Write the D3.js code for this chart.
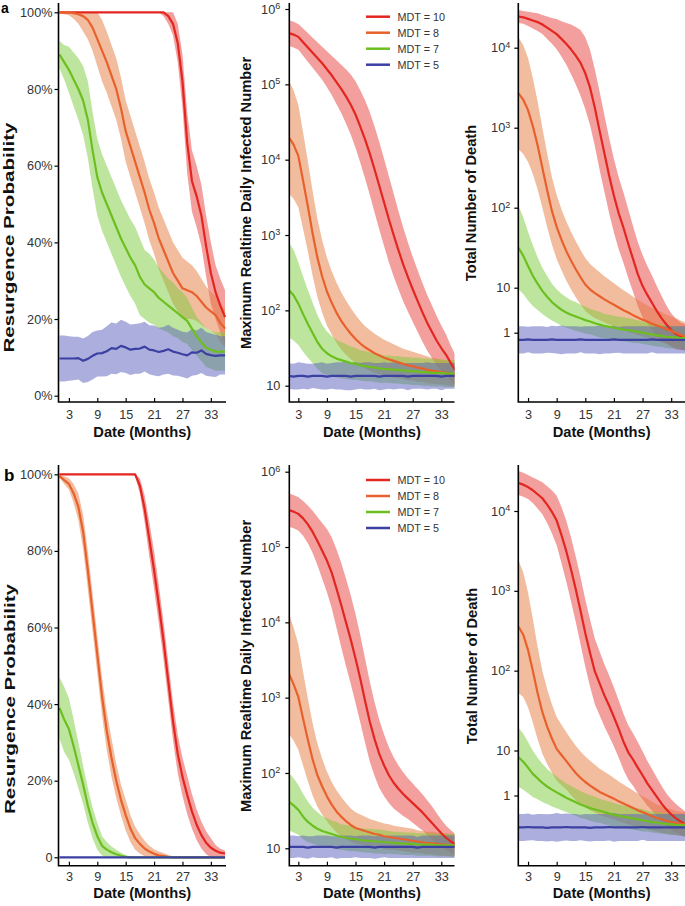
<!DOCTYPE html>
<html><head><meta charset="utf-8">
<script src="https://cdn.jsdelivr.net/npm/d3@7"></script>
<style>
body{margin:0;background:#fff}
svg{display:block}
text{font-family:"Liberation Sans",Arial,Helvetica,sans-serif}
</style>
</head><body>
<svg id="c" width="685" height="906"></svg>
<script>
// ---------- data ----------
const months = [1,2,3,4,5,6,7,8,9,10,11,12,13,14,15,16,17,18,19,20,21,22,23,24,25,26,27,28,29,30,31,32,33,34,35,36];
const xTicks = [3,9,15,21,27,33];
const seriesNames = ["MDT = 10","MDT = 8","MDT = 7","MDT = 5"];
const probTicks = [0,20,40,60,80,100];
const probLabelsA = ["0%","20%","40%","60%","80%","100%"];
const probLabelsB = ["0","20%","40%","60%","80%","100%"];
const infTicks = [1,2,3,4,5,6];      // log10 of count
const deathTicks = [0,1,2,3,4];      // log10 of count

// Panel a: resurgence probability (%), mean and half-width of band
const probA10 = [100,100,100,100,100,100,100,100,100,100,100,100,100,100,100,100,100,100,100,100,100,100,100,99,97,92,82,66,56,52,47,39,32,27,23.5,20.5];
const probA10Sd = [0,0,0,0,0,0,0,0,0,0,0,0,0,0,0,0,0,0,0,0,0,0,1,2,3,5,7,8,8,8,8,8,8,7,7,7];
const probA8 = [100,100,100,99.8,99.5,99,98,96,93,90,87,83.5,80,75,69,65,61,57,53,48.5,45,41,38,35,32,30,28,27.5,27,26,24.5,23,22,21,19,17.5];
const probA8Sd = [0.3,0.5,0.8,1.5,2.5,4,5,6,7,8,8,8,8,8,8,8,8,8,8,8,8,8,8,8,8,8,8,7.5,7,6.5,6,5.5,5,5,5,5];
const probA7 = [89,87,85,82.5,80,77,72,64,57,53,50,47,44,41,38.5,36,34,31,29,28,27,25.5,24.5,23.5,22.5,21.5,20.5,19.5,17.5,15.5,14,12.5,12,11.5,11.5,11.5];
const probA7Sd = [3.5,4.5,6,7,8,9,10,10,10,10,10,10,10,10,10,10,10,10,9,9,8.5,8,7.5,7,7,6.5,6.5,6,5.5,5,5,5,5,5,5,5];
const probA5 = [9.7,9.7,9.7,9.7,9.8,9.1,9.6,10.4,11,11.1,11.6,12.4,12.2,13,12.6,12,12.2,12.3,12.8,12,11.8,11.4,11.7,12.1,11.5,11.2,10.8,10.5,11.3,11.2,11.8,10.9,10.6,10.4,10.5,10.5];
const probA5Sd = [6,6,5.8,5.7,5.6,5.8,6,6.2,6,6.1,6.5,6.7,6.6,6.8,6.7,6.6,6.5,6.6,6.5,6.4,6.5,6.3,6.2,6.4,6.2,6,5.9,6,6.1,5.8,5.9,5.7,5.6,5.5,5,5];

// Panel a: maximum realtime daily infected number (log10), band half-width in decades
const infA10 = [5.68,5.66,5.63,5.56,5.49,5.42,5.35,5.28,5.2,5.12,5.03,4.94,4.84,4.73,4.6,4.44,4.27,4.08,3.87,3.65,3.43,3.21,3.0,2.8,2.61,2.44,2.28,2.13,1.98,1.84,1.72,1.6,1.5,1.41,1.3,1.2];
const infA10Sd = [0.17,0.17,0.17,0.18,0.19,0.2,0.21,0.22,0.24,0.26,0.29,0.32,0.36,0.4,0.44,0.48,0.52,0.55,0.57,0.58,0.58,0.57,0.55,0.52,0.49,0.46,0.43,0.41,0.39,0.37,0.35,0.33,0.3,0.27,0.23,0.2];
const infA8 = [4.3,4.2,4.05,3.72,3.38,3.02,2.7,2.45,2.25,2.1,1.97,1.86,1.77,1.69,1.62,1.56,1.51,1.47,1.43,1.4,1.37,1.35,1.33,1.31,1.29,1.27,1.26,1.24,1.23,1.21,1.2,1.19,1.18,1.17,1.16,1.15];
const infA8Sd = [0.75,0.72,0.68,0.64,0.6,0.56,0.52,0.48,0.45,0.42,0.4,0.38,0.36,0.34,0.32,0.3,0.28,0.27,0.26,0.25,0.24,0.23,0.22,0.21,0.2,0.2,0.19,0.19,0.18,0.18,0.17,0.17,0.16,0.16,0.16,0.16];
const infA7 = [2.27,2.2,2.09,1.95,1.82,1.7,1.58,1.49,1.43,1.39,1.36,1.34,1.32,1.3,1.29,1.27,1.26,1.25,1.24,1.23,1.22,1.22,1.21,1.21,1.2,1.2,1.19,1.19,1.18,1.18,1.17,1.17,1.17,1.16,1.16,1.16];
const infA7Sd = [0.63,0.6,0.55,0.5,0.45,0.4,0.36,0.32,0.29,0.27,0.25,0.24,0.23,0.22,0.21,0.2,0.2,0.19,0.19,0.19,0.18,0.18,0.18,0.18,0.18,0.18,0.18,0.18,0.18,0.18,0.18,0.18,0.18,0.18,0.18,0.18];
const infA5 = [1.13,1.12,1.13,1.13,1.12,1.13,1.13,1.13,1.12,1.13,1.13,1.13,1.13,1.12,1.13,1.13,1.13,1.13,1.13,1.12,1.13,1.13,1.13,1.13,1.13,1.12,1.13,1.13,1.13,1.13,1.13,1.13,1.12,1.13,1.13,1.13];
const infA5Sd = [0.17,0.17,0.18,0.17,0.17,0.16,0.17,0.18,0.17,0.17,0.18,0.18,0.19,0.18,0.18,0.17,0.18,0.18,0.17,0.18,0.18,0.17,0.18,0.17,0.17,0.18,0.17,0.17,0.17,0.18,0.17,0.17,0.18,0.17,0.17,0.17];

// Panel a: total number of death (log10 as labelled), band half-width in axis decades
const deathA10 = [4.39,4.38,4.36,4.34,4.32,4.29,4.25,4.21,4.17,4.11,4.05,3.98,3.9,3.81,3.68,3.5,3.25,2.96,2.68,2.4,2.15,1.93,1.75,1.55,1.36,1.17,1.02,0.84,0.66,0.48,0.32,0.18,0.06,-0.03,-0.08,-0.1];
const deathA10Sd = [0.08,0.08,0.09,0.1,0.11,0.12,0.14,0.16,0.19,0.22,0.26,0.31,0.36,0.41,0.45,0.47,0.48,0.49,0.48,0.47,0.46,0.45,0.44,0.43,0.41,0.4,0.39,0.36,0.34,0.31,0.28,0.24,0.21,0.19,0.17,0.16];
const deathA8 = [3.43,3.35,3.22,3.02,2.78,2.5,2.22,1.96,1.76,1.6,1.46,1.34,1.23,1.13,1.04,0.96,0.88,0.81,0.74,0.68,0.62,0.56,0.5,0.45,0.39,0.34,0.29,0.25,0.2,0.16,0.12,0.08,0.04,0.0,-0.05,-0.09];
const deathA8Sd = [0.7,0.68,0.65,0.6,0.55,0.5,0.46,0.42,0.4,0.38,0.37,0.36,0.35,0.34,0.33,0.32,0.31,0.3,0.29,0.28,0.27,0.26,0.25,0.24,0.23,0.22,0.21,0.2,0.2,0.19,0.19,0.18,0.18,0.18,0.18,0.18];
const deathA7 = [1.5,1.4,1.27,1.15,1.05,0.93,0.8,0.68,0.59,0.51,0.45,0.4,0.36,0.32,0.28,0.25,0.21,0.18,0.15,0.13,0.11,0.09,0.07,0.06,0.04,0.02,0.0,-0.02,-0.04,-0.06,-0.07,-0.09,-0.1,-0.11,-0.12,-0.12];
const deathA7Sd = [0.52,0.48,0.43,0.38,0.33,0.29,0.26,0.23,0.21,0.2,0.19,0.18,0.18,0.17,0.17,0.16,0.16,0.16,0.15,0.15,0.15,0.15,0.15,0.15,0.15,0.14,0.14,0.14,0.14,0.14,0.14,0.14,0.14,0.14,0.14,0.14];
const deathA5 = [-0.16,-0.16,-0.15,-0.16,-0.16,-0.16,-0.16,-0.15,-0.16,-0.16,-0.16,-0.16,-0.16,-0.15,-0.16,-0.16,-0.16,-0.16,-0.16,-0.16,-0.15,-0.16,-0.16,-0.16,-0.16,-0.16,-0.16,-0.16,-0.15,-0.16,-0.16,-0.16,-0.16,-0.16,-0.16,-0.16];
const deathA5Sd = [0.17,0.17,0.16,0.17,0.17,0.17,0.16,0.17,0.17,0.18,0.17,0.17,0.17,0.16,0.17,0.17,0.17,0.18,0.17,0.17,0.17,0.16,0.17,0.17,0.17,0.17,0.17,0.17,0.16,0.17,0.17,0.17,0.17,0.17,0.17,0.17];

// Panel b: resurgence probability (%)
const probB10 = [100,100,100,100,100,100,100,100,100,100,100,100,100,100,100,100,100,97,91,83,75,66,56.5,46,35.5,27,21,16.3,12,8.5,5.8,3.8,2.5,1.7,1.2,1.0];
const probB10Sd = [0,0,0,0,0,0,0,0,0,0,0,0,0,0,0,0,0.5,2,3.5,4.5,5,5,5,5,5,5,5,5,4.5,4,3.5,3,2.5,1.5,1,0.8];
const probB8 = [99.5,98.5,97.5,95,91.5,85,75,64,53,42,33,26,20,15,11,7.5,5,3.5,2.3,1.5,0.9,0.5,0.3,0.1,0,0,0,0,0,0,0,0,0,0,0,0];
const probB8Sd = [0.3,1,1.5,2.5,3.5,4.5,5,5,5,5,5,5,4.5,4,4,3.5,3,2.5,2,1.5,1.2,1,0.8,0.5,0.3,0,0,0,0,0,0,0,0,0,0,0];
const probB7 = [39,36,33.5,29,24,19,13.5,9,5.5,3,2,1.3,0.8,0.4,0.1,0,0,0,0,0,0,0,0,0,0,0,0,0,0,0,0,0,0,0,0,0];
const probB7Sd = [8,8.5,8,7,6,5,4.5,4,3.5,2.5,2,1.5,1.2,0.8,0.5,0.2,0,0,0,0,0,0,0,0,0,0,0,0,0,0,0,0,0,0,0,0];
const probB5 = [0,0,0,0,0,0,0,0,0,0,0,0,0,0,0,0,0,0,0,0,0,0,0,0,0,0,0,0,0,0,0,0,0,0,0,0];
const probB5Sd = [0,0,0,0,0,0,0,0,0,0,0,0,0,0,0,0,0,0,0,0,0,0,0,0,0,0,0,0,0,0,0,0,0,0,0,0];

// Panel b: maximum realtime daily infected number (log10)
const infB10 = [5.49,5.47,5.44,5.38,5.3,5.2,5.08,4.95,4.82,4.66,4.45,4.23,4.0,3.77,3.52,3.25,2.96,2.68,2.45,2.25,2.1,1.97,1.87,1.79,1.72,1.66,1.6,1.54,1.48,1.41,1.34,1.27,1.2,1.14,1.09,1.05];
const infB10Sd = [0.22,0.22,0.22,0.23,0.25,0.28,0.32,0.37,0.42,0.47,0.52,0.56,0.58,0.59,0.59,0.58,0.56,0.53,0.49,0.45,0.41,0.37,0.34,0.31,0.29,0.27,0.26,0.25,0.24,0.23,0.22,0.2,0.18,0.16,0.15,0.14];
const infB8 = [3.32,3.18,3.01,2.72,2.44,2.18,1.97,1.82,1.69,1.58,1.49,1.42,1.36,1.31,1.27,1.25,1.23,1.21,1.19,1.18,1.16,1.15,1.14,1.13,1.12,1.11,1.1,1.09,1.08,1.07,1.07,1.06,1.05,1.05,1.04,1.04];
const infB8Sd = [0.8,0.75,0.7,0.62,0.55,0.48,0.42,0.37,0.33,0.3,0.28,0.26,0.24,0.22,0.21,0.2,0.19,0.18,0.18,0.17,0.17,0.17,0.16,0.16,0.16,0.16,0.16,0.15,0.15,0.15,0.15,0.15,0.15,0.15,0.15,0.15];
const infB7 = [1.62,1.57,1.51,1.42,1.35,1.3,1.26,1.23,1.21,1.19,1.17,1.15,1.14,1.13,1.12,1.11,1.1,1.1,1.09,1.09,1.08,1.08,1.07,1.07,1.06,1.06,1.06,1.05,1.05,1.05,1.05,1.04,1.04,1.04,1.04,1.04];
const infB7Sd = [0.38,0.36,0.33,0.3,0.27,0.24,0.22,0.2,0.19,0.18,0.18,0.17,0.17,0.17,0.16,0.16,0.16,0.16,0.16,0.16,0.16,0.15,0.15,0.15,0.15,0.15,0.15,0.15,0.15,0.15,0.15,0.15,0.15,0.15,0.15,0.15];
const infB5 = [1.02,1.02,1.02,1.02,1.01,1.02,1.02,1.02,1.02,1.02,1.01,1.02,1.02,1.02,1.02,1.02,1.02,1.02,1.01,1.02,1.02,1.02,1.02,1.02,1.02,1.02,1.02,1.01,1.02,1.02,1.02,1.02,1.02,1.02,1.02,1.02];
const infB5Sd = [0.15,0.15,0.14,0.15,0.15,0.14,0.15,0.15,0.15,0.14,0.15,0.15,0.15,0.15,0.14,0.15,0.15,0.15,0.15,0.15,0.14,0.15,0.15,0.15,0.15,0.15,0.15,0.14,0.15,0.15,0.15,0.15,0.15,0.15,0.15,0.15];

// Panel b: total number of death (log10 as labelled)
const deathB10 = [4.35,4.33,4.3,4.26,4.21,4.16,4.08,3.99,3.88,3.7,3.5,3.27,3.02,2.75,2.47,2.22,1.99,1.84,1.69,1.56,1.42,1.27,1.11,0.96,0.8,0.62,0.45,0.27,0.12,-0.03,-0.18,-0.31,-0.42,-0.51,-0.58,-0.64];
const deathB10Sd = [0.15,0.15,0.15,0.16,0.18,0.2,0.23,0.27,0.31,0.35,0.38,0.4,0.41,0.42,0.42,0.42,0.41,0.4,0.39,0.38,0.37,0.36,0.35,0.34,0.33,0.32,0.3,0.28,0.26,0.24,0.22,0.2,0.19,0.18,0.17,0.16];
const deathB8 = [2.55,2.45,2.26,2.0,1.72,1.48,1.3,1.15,1.02,0.9,0.77,0.63,0.5,0.39,0.3,0.22,0.15,0.08,0.03,-0.02,-0.07,-0.13,-0.18,-0.23,-0.28,-0.33,-0.37,-0.41,-0.46,-0.5,-0.53,-0.56,-0.59,-0.61,-0.63,-0.64];
const deathB8Sd = [0.83,0.78,0.72,0.65,0.58,0.52,0.47,0.43,0.4,0.38,0.36,0.35,0.34,0.33,0.32,0.31,0.3,0.29,0.28,0.27,0.26,0.25,0.24,0.23,0.22,0.21,0.2,0.19,0.18,0.17,0.17,0.16,0.16,0.15,0.15,0.15];
const deathB7 = [0.85,0.75,0.62,0.48,0.38,0.28,0.2,0.13,0.07,0.01,-0.05,-0.1,-0.15,-0.2,-0.24,-0.28,-0.31,-0.34,-0.37,-0.4,-0.43,-0.45,-0.47,-0.49,-0.51,-0.53,-0.55,-0.57,-0.59,-0.6,-0.62,-0.63,-0.64,-0.65,-0.66,-0.67];
const deathB7Sd = [0.37,0.35,0.32,0.29,0.26,0.24,0.22,0.21,0.2,0.19,0.18,0.18,0.17,0.17,0.16,0.16,0.16,0.15,0.15,0.15,0.15,0.14,0.14,0.14,0.14,0.14,0.14,0.13,0.13,0.13,0.13,0.13,0.13,0.13,0.13,0.13];
const deathB5 = [-0.71,-0.71,-0.7,-0.71,-0.71,-0.71,-0.72,-0.71,-0.71,-0.71,-0.7,-0.71,-0.71,-0.71,-0.71,-0.72,-0.71,-0.71,-0.71,-0.7,-0.71,-0.71,-0.71,-0.71,-0.71,-0.71,-0.7,-0.71,-0.71,-0.71,-0.71,-0.71,-0.71,-0.71,-0.71,-0.71];
const deathB5Sd = [0.17,0.17,0.17,0.16,0.17,0.17,0.17,0.17,0.18,0.17,0.17,0.17,0.17,0.16,0.17,0.17,0.17,0.17,0.17,0.17,0.18,0.17,0.17,0.17,0.17,0.17,0.16,0.17,0.17,0.17,0.17,0.17,0.17,0.17,0.17,0.17];

// ---------- styles ----------
const lineColors = ["#e3261f","#e8612c","#6cbf1f","#3b40a2"];
const bandColors = ["#e8504f","#e5793f","#7ccc3c","#5a5fbb"];
const bandOpacity = [0.55,0.5,0.5,0.5];

// ---------- layout ----------
const rows = [
  {top:3, bottom:402, letter:"a", letterX:1, letterY:13, letterSize:14, titleY:203, probTitleY:237.5, xTitleY:437, xPad:8, legendY:16.7,
   prob:{yRange:[395.7,12.3], labels:probLabelsA, s:[[probA10,probA10Sd],[probA8,probA8Sd],[probA7,probA7Sd],[probA5,probA5Sd]]},
   inf:{yRange:[385.7,9], s:[[infA10,infA10Sd],[infA8,infA8Sd],[infA7,infA7Sd],[infA5,infA5Sd]]},
   death:{yRange:[332.7,287.7,47.7], s:[[deathA10,deathA10Sd],[deathA8,deathA8Sd],[deathA7,deathA7Sd],[deathA5,deathA5Sd]]}},
  {top:465, bottom:865.7, letter:"b", letterX:4, letterY:481, letterSize:17, titleY:666, probTitleY:699, xTitleY:898, xPad:6, legendY:480,
   prob:{yRange:[857.3,474.3], labels:probLabelsB, s:[[probB10,probB10Sd],[probB8,probB8Sd],[probB7,probB7Sd],[probB5,probB5Sd]]},
   inf:{yRange:[848.3,471.7], s:[[infB10,infB10Sd],[infB8,infB8Sd],[infB7,infB7Sd],[infB5,infB5Sd]]},
   death:{yRange:[795.5,750.5,511], s:[[deathB10,deathB10Sd],[deathB8,deathB8Sd],[deathB7,deathB7Sd],[deathB5,deathB5Sd]]}}
];

const cols = {
  prob:{x0:58.5, x1:226, xDom:[0.8,36.2], xRange:[58.5,226], yDom:[0,100], ticks:probTicks, pad:2, title:"Resurgence Probability", titleX:[8,9], titleSize:15.2, titleLen:230},
  inf:{x0:289.3, x1:454.5, xDom:[1,36], xRange:[288.8,455.6], yDom:[1,6], ticks:infTicks, pad:5, title:"Maximum Realtime Daily Infected Number", titleX:[246,246], titleSize:14.7},
  death:{x0:518.3, x1:685, xDom:[1,36], xRange:[518.5,685.5], yDom:[0,1,4], ticks:deathTicks, pad:4, title:"Total Number of Death", titleX:[471,472], titleSize:14.7}
};

const svg = d3.select("#c");
const defs = svg.append("defs");
let clipN = 0;

function expLabel(textSel, d) {
  textSel.text(null);
  if (d === 0) { textSel.text("1"); return; }
  if (d === 1) { textSel.text("10"); return; }
  textSel.append("tspan").text("10");
  textSel.append("tspan").attr("dy","-0.5em").attr("font-size","0.72em").text(d);
}

rows.forEach((r, ri) => {
  ["prob","inf","death"].forEach(kind => {
    const c = cols[kind], p = r[kind];
    const x = d3.scaleLinear().domain(c.xDom).range(c.xRange);
    const y = d3.scaleLinear().domain(c.yDom).range(p.yRange);
    const id = "clip" + (clipN++);
    defs.append("clipPath").attr("id", id).append("rect")
      .attr("x", c.x0).attr("y", r.top).attr("width", c.x1 - c.x0).attr("height", r.bottom - r.top);
    const plot = svg.append("g").attr("clip-path", `url(#${id})`);
    const k = kind === "prob" ? 0 : Math.abs(y(2) - y(1));

    p.s.forEach(([mean, sd], i) => {
      const data = months.map((m, j) => ({m, v: mean[j], s: sd[j]}));
      const area = d3.area().x(d => x(d.m));
      if (kind === "prob") {
        area.y0(d => y(Math.max(0, d.v - d.s))).y1(d => y(Math.min(100, d.v + d.s)));
      } else {
        area.y0(d => y(d.v) + d.s * k).y1(d => y(d.v) - d.s * k);
      }
      plot.append("path").datum(data).attr("d", area)
        .attr("fill", bandColors[i]).attr("fill-opacity", bandOpacity[i]).attr("stroke", "none");
    });
    p.s.forEach(([mean], i) => {
      const data = months.map((m, j) => ({m, v: mean[j]}));
      plot.append("path").datum(data)
        .attr("d", d3.line().x(d => x(d.m)).y(d => y(d.v)))
        .attr("fill", "none").attr("stroke", lineColors[i]).attr("stroke-width", 2.2)
        .attr("stroke-linejoin", "round");
    });

    // y axis
    const ya = svg.append("g").attr("transform", `translate(${c.x0},0)`)
      .call(d3.axisLeft(y).tickValues(c.ticks).tickSize(4).tickPadding(c.pad)
        .tickFormat((d, i) => kind === "prob" ? p.labels[i] : String(d)));
    ya.select(".domain").remove();
    ya.selectAll(".tick line").attr("stroke", "#000").attr("stroke-width", 1.2);
    ya.selectAll(".tick text").attr("fill", "#333").attr("font-size", 12.7);
    if (kind !== "prob") ya.selectAll(".tick text").each(function(d){ expLabel(d3.select(this), d); });

    // x axis
    const xa = svg.append("g").attr("transform", `translate(0,${r.bottom})`)
      .call(d3.axisBottom(x).tickValues(xTicks).tickSizeInner(-4).tickSizeOuter(0).tickPadding(r.xPad));
    xa.select(".domain").remove();
    xa.selectAll(".tick line").attr("stroke", "#000").attr("stroke-width", 1.2);
    xa.selectAll(".tick text").attr("fill", "#333").attr("font-size", 12.7);

    // axis lines
    svg.append("path")
      .attr("d", `M${c.x0},${r.top}V${r.bottom}H${c.x1}`)
      .attr("fill", "none").attr("stroke", "#000").attr("stroke-width", 1.6);

    // titles
    const ty = kind === "prob" ? r.probTitleY : r.titleY;
    const tt = svg.append("text")
      .attr("transform", `translate(${c.titleX[ri]},${ty}) rotate(-90)`)
      .attr("text-anchor", "middle").attr("dominant-baseline", "central")
      .attr("font-weight", "bold").attr("font-size", c.titleSize).attr("fill", "#111")
      .text(c.title);
    if (c.titleLen) tt.attr("textLength", c.titleLen).attr("lengthAdjust", "spacingAndGlyphs");
    svg.append("text")
      .attr("x", (c.x0 + c.x1) / 2).attr("y", r.xTitleY)
      .attr("text-anchor", "middle").attr("font-weight", "bold").attr("font-size", 14.7).attr("fill", "#111")
      .text("Date (Months)");

    // legend in middle panel
    if (kind === "inf") {
      const lg = svg.append("g");
      seriesNames.forEach((name, i) => {
        const yy = r.legendY + i * 16;
        lg.append("line").attr("x1", 366).attr("x2", 390).attr("y1", yy).attr("y2", yy)
          .attr("stroke", lineColors[i]).attr("stroke-width", 2.5);
        lg.append("text").attr("x", 397.5).attr("y", yy).attr("dominant-baseline", "central")
          .attr("font-size", 10.8).attr("fill", "#333").text(name);
      });
    }
  });

  svg.append("text").attr("x", r.letterX).attr("y", r.letterY)
    .attr("font-weight", "bold").attr("font-size", r.letterSize).attr("fill", "#000").text(r.letter);
});
</script>
</body></html>
